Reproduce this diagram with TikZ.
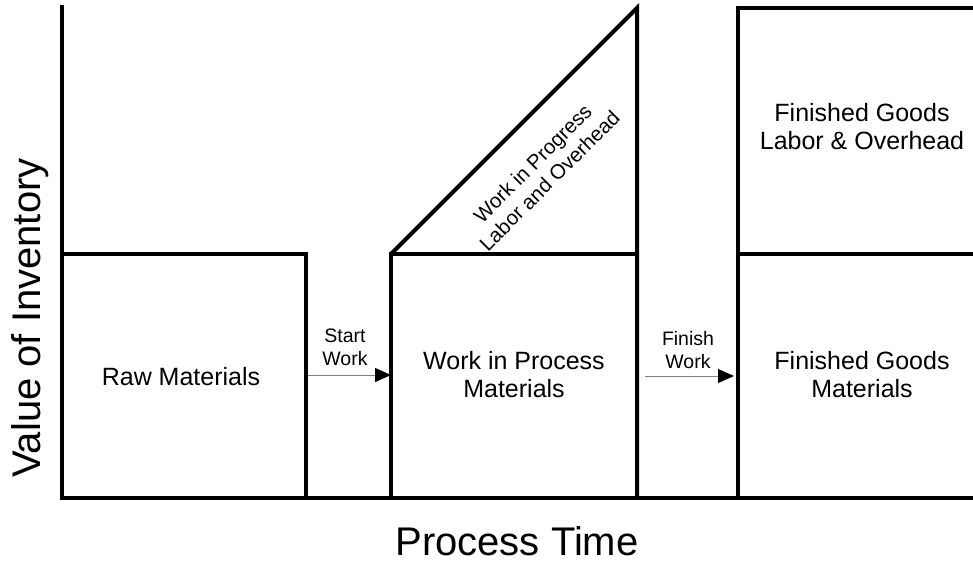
\documentclass[tikz,border=0pt]{standalone}
\usepackage{fontspec}
\setmainfont{Liberation Sans}
\usetikzlibrary{arrows.meta}
\begin{document}
\begin{tikzpicture}[x=1pt,y=-1pt,
  outline/.style={line width=4pt,black,line join=miter},
  flow/.style={draw=gray,line width=1pt,-{Triangle[length=16pt,width=14pt,color=black]}},
  boxlabel/.style={font=\fontsize{25}{28}\selectfont,align=center,inner sep=0pt},
  flowlabel/.style={font=\fontsize{19.5}{23}\selectfont,align=center,inner sep=0pt},
  axislabel/.style={font=\fontsize{40}{44}\selectfont,inner sep=0pt}]
\useasboundingbox (0,0) rectangle (973,560);
% axes
\draw[outline] (62,5) -- (62,498) -- (980,498);
% raw materials
\draw[outline] (62,254) -- (306,254) -- (306,498);
% work in process
\draw[outline] (391,498) -- (391,254) -- (637,254);
\draw[outline] (391,254) -- (637,8) -- (637,498);
% finished goods
\draw[outline] (738,498) -- (738,8) -- (980,8);
\draw[outline] (738,254) -- (980,254);
% labels
\node[boxlabel] (raw) at (181,377) {Raw Materials};
\node[boxlabel] (wip) at (514,375) {Work in Process\\Materials};
\node[boxlabel] (fgm) at (862,375) {Finished Goods\\Materials};
\node[boxlabel] (fglo) at (862,127) {Finished Goods\\Labor \& Overhead};
\node[flowlabel,font=\fontsize{20.5}{24}\selectfont,rotate=45] (wipl) at (541,172) {Work in Progress\\Labor and Overhead};
\node[flowlabel] (start) at (345,347) {Start\\Work};
\node[flowlabel] (finish) at (688,350) {Finish\\Work};
\node[axislabel,rotate=90] (yl) at (30,318) {Value of Inventory};
\node[axislabel] (xl) at (517,541) {Process Time};
% flows
\coordinate (s1) at (308,375);
\coordinate (e1) at (391,375);
\coordinate (s2) at (645,376);
\coordinate (e2) at (734,376);
\draw[flow] (s1) -- (e1);
\draw[flow] (s2) -- (e2);
\end{tikzpicture}
\end{document}
